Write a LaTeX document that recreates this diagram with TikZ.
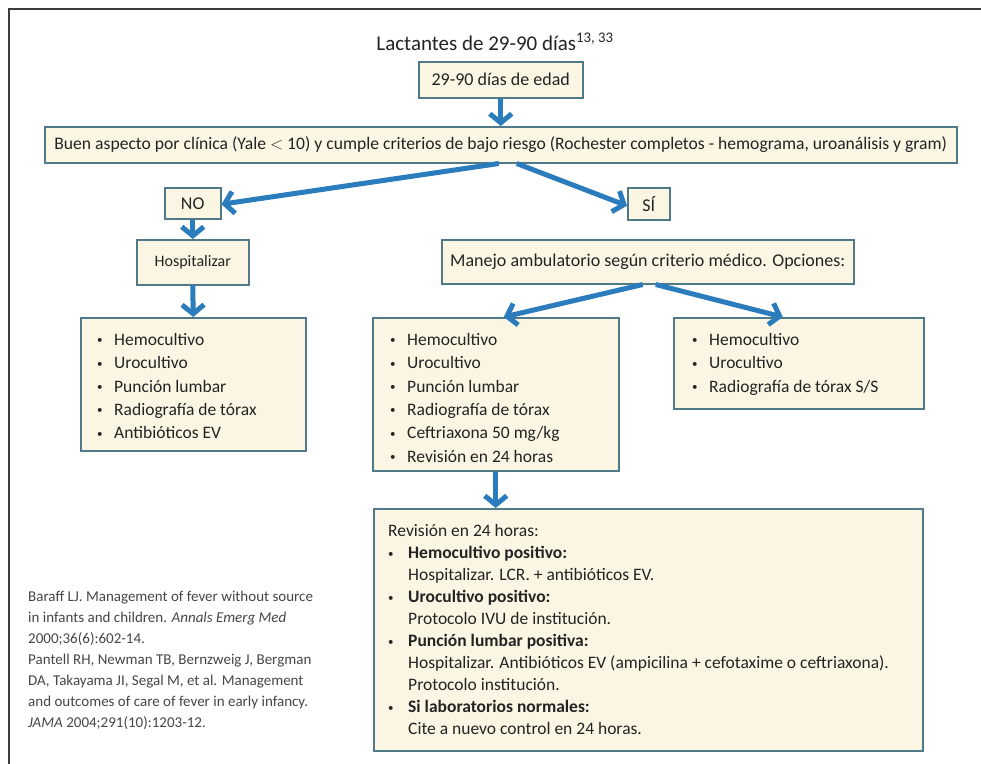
\documentclass[tikz,border=0pt]{standalone}
\usepackage{fontspec}
\setmainfont{Carlito}
\usetikzlibrary{arrows.meta}

\definecolor{boxfill}{RGB}{250,246,227}
\definecolor{boxline}{RGB}{80,122,136}
\definecolor{flow}{RGB}{43,124,189}
\definecolor{ink}{RGB}{35,35,35}
\definecolor{refink}{RGB}{70,70,70}
\definecolor{framec}{RGB}{60,60,60}

% small list bullet in a fixed-width slot
\newcommand{\bul}[1][13pt]{\makebox[#1][l]{\raisebox{1.6pt}{\fontsize{11}{11}\selectfont\textbullet}}}
\newcommand{\blist}[1]{\begin{tabular}{@{}l@{\hspace{4pt}}l@{}}#1\end{tabular}}

\tikzset{
  panel/.style={draw=boxline, fill=boxfill, line width=1.5pt, inner sep=0pt,
    anchor=north west, text=ink, font=\fontsize{18}{22}\selectfont},
  flowarrow/.style={draw=flow, line width=5pt, -{Straight Barb[length=9pt,width=22pt]}},
  listtext/.style={text=ink, inner sep=0pt, anchor=north west, align=left,
    font=\fontsize{17.5}{23.3}\selectfont},
}

\begin{document}
\begin{tikzpicture}[x=1pt,y=-1pt]
\useasboundingbox (0,0) rectangle (981,763);
\fill[white] (0,0) rectangle (981,763);

% outer frame (only the left and top edges fall inside the page)
\draw[framec, line width=2pt] (9,770) -- (9,9) -- (990,9);

% title
\node[text=ink, font=\fontsize{21}{25}\selectfont, inner sep=0pt] (title) at (495,42)
  {Lactantes de 29-90 días\textsuperscript{13, 33}};

% boxes
\node[panel, minimum width=164, minimum height=36] (age) at (418,61) {29-90 días de edad};
\node[panel, minimum width=912, minimum height=36, font=\fontsize{17.6}{21}\selectfont] (crit) at (44,126)
  {Buen aspecto por clínica (Yale $<$ 10) y cumple criterios de bajo riesgo (Rochester completos - hemograma, uroanálisis y gram)};
\node[panel, minimum width=56, minimum height=31] (no) at (164,187) {NO};
\node[panel, minimum width=42, minimum height=32] (si) at (627,187) {SÍ};
\node[panel, minimum width=112, minimum height=45, font=\fontsize{16}{20}\selectfont] (hosp) at (136,239) {Hospitalizar};
\node[panel, minimum width=412, minimum height=44] (amb) at (441,239)
  {Manejo ambulatorio según criterio médico. Opciones:};

\node[panel, minimum width=225, minimum height=133] (l1) at (80,317) {};
\node[panel, minimum width=246, minimum height=153] (l2) at (372,317) {};
\node[panel, minimum width=250, minimum height=91] (l3) at (673,317) {};
\node[panel, minimum width=549, minimum height=242] (l4) at (373,508) {};

% list contents
\node[listtext] (l1t) at (97,329) {\blist{
  \bul & Hemocultivo\\
  \bul & Urocultivo\\
  \bul & Punción lumbar\\
  \bul & Radiografía de tórax\\
  \bul & Antibióticos EV}};
\node[listtext] (l2t) at (390,329) {\blist{
  \bul & Hemocultivo\\
  \bul & Urocultivo\\
  \bul & Punción lumbar\\
  \bul & Radiografía de tórax\\
  \bul & Ceftriaxona 50 mg/kg\\
  \bul & Revisión en 24 horas}};
\node[listtext] (l3t) at (692,329) {\blist{
  \bul & Hemocultivo\\
  \bul & Urocultivo\\
  \bul & Radiografía de tórax S/S}};
\node[listtext, font=\fontsize{17.5}{22}\selectfont] (l4t) at (388,521) {%
  \begin{tabular}{@{}l@{\hspace{4pt}}l@{}}
  \multicolumn{2}{@{}l@{}}{Revisión en 24 horas:}\\
  \bul[16pt] & \textbf{Hemocultivo positivo:}\\
   & Hospitalizar. LCR. + antibióticos EV.\\
  \bul[16pt] & \textbf{Urocultivo positivo:}\\
   & Protocolo IVU de institución.\\
  \bul[16pt] & \textbf{Punción lumbar positiva:}\\
   & Hospitalizar. Antibióticos EV (ampicilina + cefotaxime o ceftriaxona).\\
   & Protocolo institución.\\
  \bul[16pt] & \textbf{Si laboratorios normales:}\\
   & Cite a nuevo control en 24 horas.
  \end{tabular}};

% references
\node[text=refink, inner sep=0pt, anchor=north west, align=left,
  font=\fontsize{15}{21}\selectfont] (refs) at (28,591)
  {Baraff LJ. Management of fever without source\\
   in infants and children. \textit{Annals Emerg Med}\\
   2000;36(6):602-14.\\
   Pantell RH, Newman TB, Bernzweig J, Bergman\\
   DA, Takayama JI, Segal M, et al. Management\\
   and outcomes of care of fever in early infancy.\\
   \textit{JAMA} 2004;291(10):1203-12.};

% connectors
\draw[flowarrow] (age.south) -- (crit.north);
\draw[flowarrow] ([xshift=-2pt]crit.south) -- ([yshift=-1pt]no.east);
\draw[flowarrow] ([xshift=16pt]crit.south) -- ([yshift=-2pt]si.west);
\draw[flowarrow] (no.south) -- (hosp.north);
\draw[flowarrow] (hosp.south) -- (l1.north);
\draw[flowarrow] ([xshift=-5pt]amb.south) -- ([xshift=8pt]l2.north);
\draw[flowarrow] ([xshift=8pt]amb.south) -- ([xshift=-16pt]l3.north);
\draw[flowarrow] (l2.south) -- (l4.north -| l2.south);
\end{tikzpicture}
\end{document}
